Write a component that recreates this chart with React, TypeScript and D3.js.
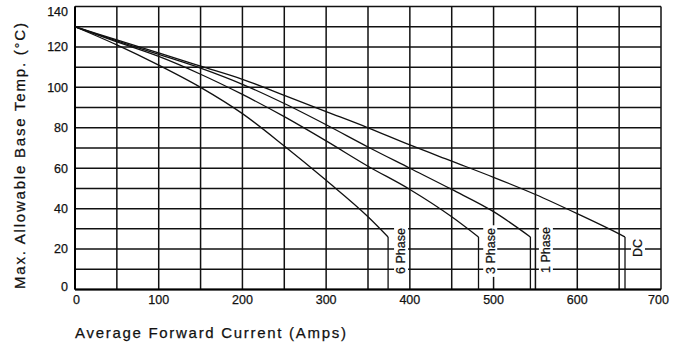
import React from 'react';
import * as d3 from 'd3';

// tick values
const currentTicks = [0, 100, 200, 300, 400, 500, 600, 700];
const currentGrid = d3.range(0, 701, 50);
const tempTicks = [0, 20, 40, 60, 80, 100, 120, 140];
const tempGrid = d3.range(0, 141, 10);

// curves (amps -> max base temp)
const dcAmps = [0, 50, 100, 150, 200, 250, 300, 350, 400, 450, 500, 550, 600, 650, 657];
const dcTemp = [130, 123.5, 117, 110.5, 104, 96, 88, 80, 71.5, 63.5, 55.5, 47, 37.5, 27.5, 26];
const phase1Amps = [0, 50, 100, 150, 200, 250, 300, 350, 400, 450, 500, 544];
const phase1Temp = [130, 123, 116.3, 109.5, 101.5, 92, 81.5, 70.5, 60, 49.5, 38.5, 26];
const phase3Amps = [0, 50, 100, 150, 200, 250, 300, 350, 400, 450, 482];
const phase3Temp = [130, 122.5, 115.3, 106.5, 96.5, 85.5, 73.5, 61, 49.5, 36, 26];
const phase6Amps = [0, 50, 100, 150, 200, 250, 300, 350, 374];
const phase6Temp = [130, 121, 111, 100, 87, 71, 54, 36, 26];

const seriesNames = ['6 Phase', '3 Phase', '1 Phase', 'DC'];
// where each label sits (amps, temp of text centre)
const labelAmps = [389.5, 496, 562.5, 672.5];
const labelTemp = [19, 19, 19.5, 20.5];

const width = 676;
const height = 342;
const margins = { left: 75, right: 15, top: 6.5, bottom: 52.5 };

const Curve = ({ amps, temps, xScale, yScale }) => {
    const pts = amps.map((a, i) => [a, temps[i]]);
    const line = d3.line()
        .x(d => xScale(d[0]))
        .y(d => yScale(d[1]))
        .curve(d3.curveMonotoneX);
    const last = pts[pts.length - 1];
    return (
        <g fill="none" stroke="#111" strokeWidth={1.3}>
            <path d={line(pts)} />
            <line x1={xScale(last[0])} x2={xScale(last[0])} y1={yScale(last[1])} y2={yScale(0)} />
        </g>
    );
};

const App = () => {
    const xScale = d3.scaleLinear().domain([0, 700]).range([margins.left, width - margins.right]);
    const yScale = d3.scaleLinear().domain([0, 140]).range([height - margins.bottom, margins.top]);

    const series = [
        { amps: phase6Amps, temps: phase6Temp },
        { amps: phase3Amps, temps: phase3Temp },
        { amps: phase1Amps, temps: phase1Temp },
        { amps: dcAmps, temps: dcTemp },
    ];

    const font = 'Arial, "Liberation Sans", Helvetica, sans-serif';

    return (
        <svg width={width} height={height} style={{ position: 'absolute', left: 0, top: 0, background: '#fff' }}
            fontFamily={font}>
            <rect width={width} height={height} fill="#fff" />

            {/* grid */}
            <g stroke="#111" strokeWidth={1.5}>
                {currentGrid.map(v => (
                    <line key={'v' + v} x1={xScale(v)} x2={xScale(v)} y1={yScale(140)} y2={yScale(0)} />
                ))}
                {tempGrid.map(v => (
                    <line key={'h' + v} x1={xScale(0)} x2={xScale(700)} y1={yScale(v)} y2={yScale(v)} />
                ))}
            </g>
            <line x1={xScale(0)} x2={xScale(0)} y1={yScale(140)} y2={yScale(0)} stroke="#000" strokeWidth={2} />
            <line x1={xScale(0)} x2={xScale(700)} y1={yScale(0)} y2={yScale(0)} stroke="#000" strokeWidth={2} />

            {series.map((s, i) => (
                <Curve key={i} amps={s.amps} temps={s.temps} xScale={xScale} yScale={yScale} />
            ))}

            {/* curve labels */}
            {seriesNames.map((name, i) => {
                const cx = xScale(labelAmps[i]);
                const cy = yScale(labelTemp[i]);
                const w = name.length * 6.8 + 4;
                return (
                    <g key={name} transform={`translate(${cx},${cy}) rotate(-90)`}>
                        <rect x={-w / 2} y={-7} width={w} height={14} fill="#fff" />
                        <text textAnchor="middle" dy="0.35em" fontSize={12.5} fill="#111"
                            stroke="#111" strokeWidth={0.25}>{name}</text>
                    </g>
                );
            })}

            <g fontSize={12.5} fill="#111" stroke="#111" strokeWidth={0.25}>
                {/* y ticks */}
                {tempTicks.map(v => (
                    <text key={'yt' + v} x={68} y={yScale(v) + (v === 140 ? 5.5 : v === 0 ? -3 : 0)} dy="0.35em"
                        textAnchor="end">{v}</text>
                ))}
                {/* x ticks */}
                {currentTicks.map(v => (
                    <text key={'xt' + v} x={xScale(v) + (v === 0 ? 1.5 : v === 700 ? -2.5 : 0)} y={yScale(0) + 10.5}
                        dy="0.35em" textAnchor="middle">{v}</text>
                ))}

                <text x={75} y={333} dy="0.35em" fontSize={15} textLength={271} lengthAdjust="spacing">
                    Average Forward Current (Amps)
                </text>
                <text transform="translate(20,156) rotate(-90)" textAnchor="middle" dy="0.35em" fontSize={15}
                    textLength={266} lengthAdjust="spacing">
                    Max. Allowable Base Temp. (°C)
                </text>
            </g>
        </svg>
    );
};

export default App;
